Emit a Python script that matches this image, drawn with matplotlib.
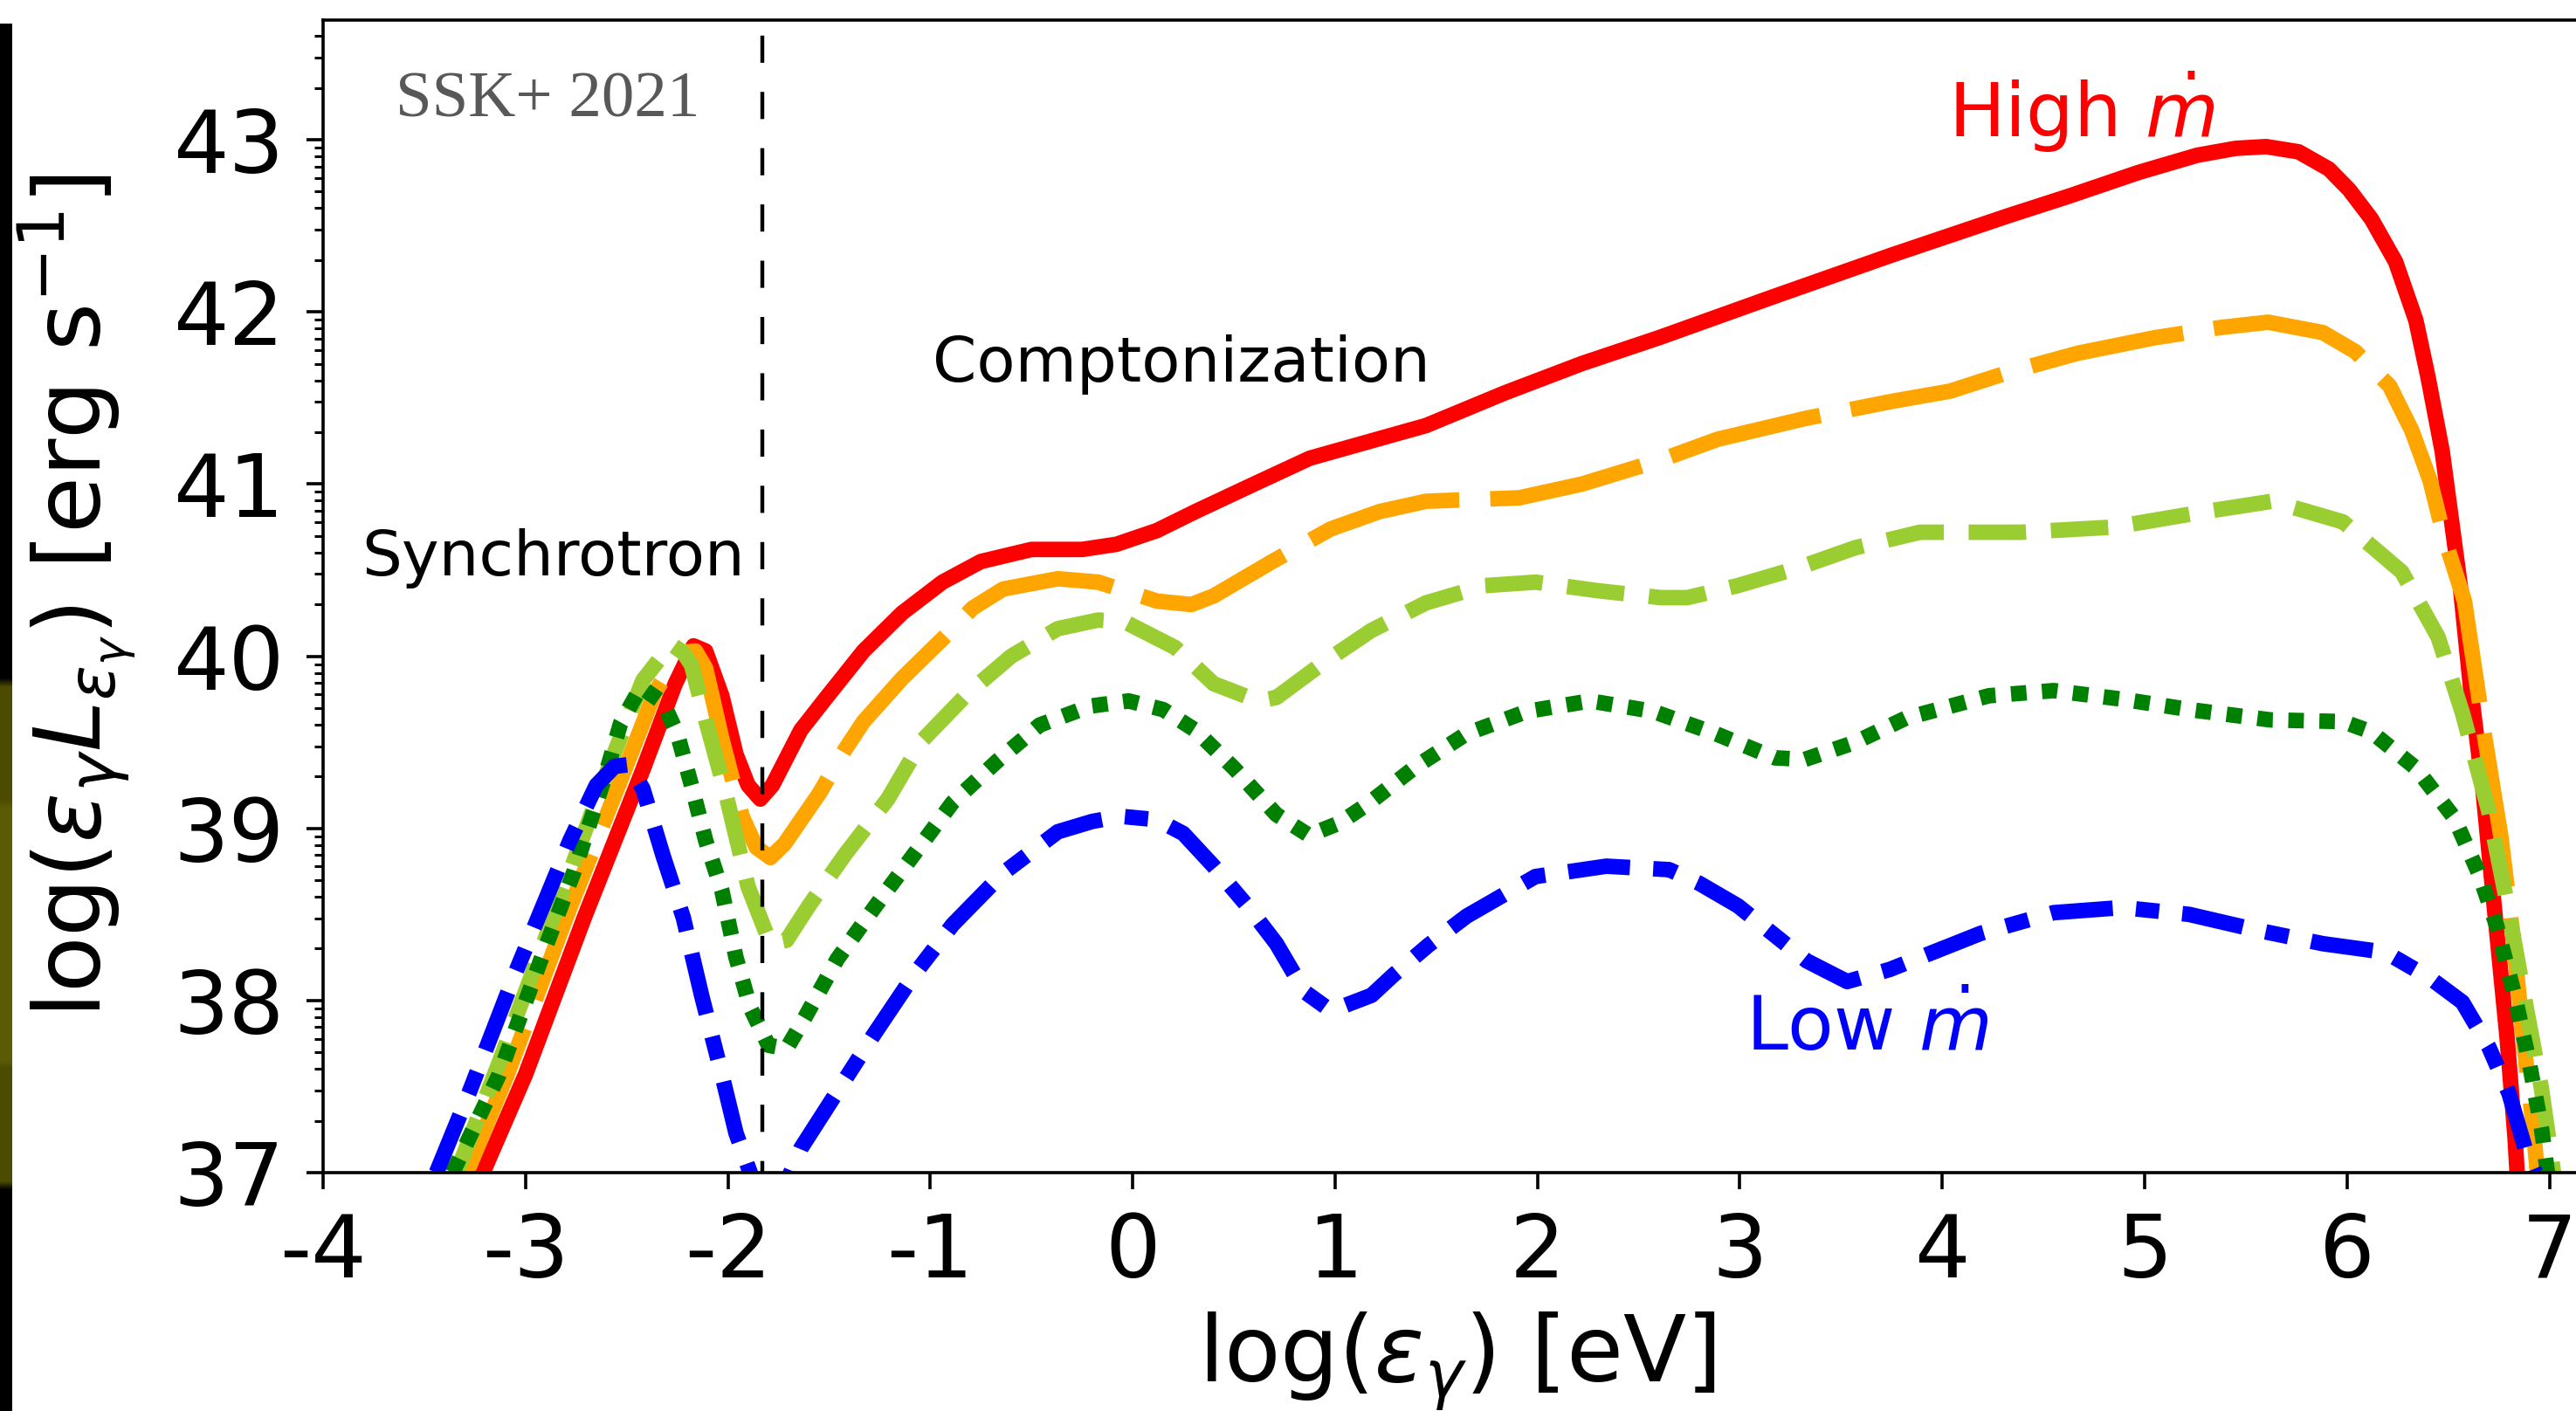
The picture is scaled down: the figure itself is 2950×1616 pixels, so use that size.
import numpy as np
import matplotlib
matplotlib.use("Agg")
import matplotlib.pyplot as plt
from matplotlib import ticker

plt.rcParams['font.family'] = ['DejaVu Sans']
plt.rcParams['axes.unicode_minus'] = False
plt.rcParams['mathtext.fontset'] = 'dejavusans'

# log(eps) [eV] and log(eps L_eps) [erg/s]
red_x = [-3.21, -3.0, -2.71, -2.42, -2.26, -2.17, -2.11, -2.03, -1.96, -1.90, -1.84, -1.78,
         -1.64, -1.52, -1.33, -1.14, -0.94, -0.75, -0.50, -0.25, -0.08, 0.12, 0.31, 0.60,
         0.875, 1.45, 1.84, 2.22, 2.60, 3.17, 3.75, 4.33, 4.62, 4.97, 5.26, 5.45, 5.60, 5.76,
         5.91, 6.01, 6.12, 6.24, 6.34, 6.40, 6.47, 6.56, 6.61, 6.67, 6.73, 6.79, 6.83, 6.84]
red_y = [37.0, 37.57, 38.48, 39.34, 39.84, 40.06, 40.03, 39.77, 39.43, 39.25, 39.17, 39.25,
         39.57, 39.75, 40.03, 40.25, 40.43, 40.55, 40.62, 40.62, 40.65, 40.73, 40.84, 41.0,
         41.15, 41.34, 41.53, 41.70, 41.85, 42.09, 42.33, 42.56, 42.67, 42.81, 42.91, 42.95, 42.96, 42.93,
         42.83, 42.71, 42.54, 42.29, 41.95, 41.62, 41.19, 40.40, 39.82, 39.24, 38.51, 37.79, 37.20, 37.0]

orange_x = [-3.29, -3.09, -2.80, -2.51, -2.36, -2.24, -2.16, -2.11, -2.03, -1.93, -1.86, -1.79,
            -1.72, -1.55, -1.42, -1.33, -1.14, -0.94, -0.79, -0.64, -0.37, -0.17, 0.12, 0.29,
            0.40, 0.69, 0.98, 1.22, 1.45, 1.91, 2.22, 2.61, 2.89, 3.32, 3.75, 4.04, 4.33, 4.67,
            5.05, 5.38, 5.61, 5.88, 6.04, 6.21, 6.32, 6.41, 6.48, 6.58, 6.68, 6.76, 6.82, 6.87,
            6.92, 6.94]
orange_y = [37.0, 37.57, 38.48, 39.34, 39.79, 40.02, 40.03, 39.93, 39.52, 39.07, 38.89, 38.83,
            38.91, 39.20, 39.46, 39.62, 39.87, 40.10, 40.28, 40.39, 40.45, 40.43, 40.32, 40.30,
            40.35, 40.55, 40.74, 40.84, 40.90, 40.92, 41.0, 41.14, 41.26, 41.38, 41.48, 41.54, 41.65, 41.76,
            41.85, 41.91, 41.94, 41.88, 41.77, 41.57, 41.31, 41.02, 40.69, 40.32, 39.53, 38.95, 38.37, 37.79,
            37.26, 37.0]

yg_x = [-3.34, -3.13, -2.88, -2.61, -2.42, -2.28, -2.22, -2.18, -2.11, -2.01, -1.90, -1.79,
        -1.71, -1.60, -1.42, -1.21, -1.04, -0.81, -0.60, -0.37, -0.17, -0.04, 0.21, 0.40,
        0.62, 0.71, 0.94, 1.18, 1.45, 1.74, 1.99, 2.30, 2.61, 2.74, 2.99, 3.28, 3.57, 3.89,
        4.39, 4.85, 5.30, 5.63, 5.98, 6.27, 6.45, 6.57, 6.70, 6.80, 6.88, 6.96, 7.02]
yg_y = [37.0, 37.64, 38.43, 39.29, 39.86, 40.07, 40.02, 39.95, 39.63, 39.20, 38.66, 38.33,
        38.35, 38.55, 38.85, 39.17, 39.51, 39.79, 40.00, 40.16, 40.21, 40.20, 40.05, 39.84,
        39.74, 39.76, 39.96, 40.15, 40.31, 40.41, 40.43, 40.38, 40.34, 40.34, 40.41, 40.51, 40.63, 40.72,
        40.72, 40.75, 40.84, 40.90, 40.78, 40.49, 40.11, 39.67, 39.10, 38.51, 37.99, 37.49, 37.0]

dg_x = [-3.36, -3.13, -2.92, -2.76, -2.61, -2.53, -2.43, -2.32, -2.25, -2.18, -2.11, -2.03,
        -1.96, -1.89, -1.80, -1.71, -1.62, -1.46, -1.27, -1.08, -0.89, -0.67, -0.46, -0.21,
        -0.02, 0.15, 0.31, 0.50, 0.71, 0.87, 1.02, 1.16, 1.40, 1.65, 1.95, 2.26, 2.57, 2.88,
        3.17, 3.32, 3.57, 3.82, 4.23, 4.55, 4.89, 5.22, 5.62, 5.98, 6.12, 6.34, 6.53, 6.65,
        6.74, 6.83, 6.90, 6.96, 6.99]
dg_y = [37.0, 37.57, 38.25, 38.75, 39.29, 39.61, 39.82, 39.73, 39.55, 39.25, 38.93, 38.64,
        38.25, 37.96, 37.74, 37.72, 37.90, 38.24, 38.55, 38.85, 39.15, 39.39, 39.60, 39.71,
        39.74, 39.69, 39.57, 39.35, 39.08, 38.96, 39.03, 39.14, 39.36, 39.55, 39.68, 39.74, 39.68, 39.55,
        39.41, 39.40, 39.50, 39.64, 39.77, 39.80, 39.75, 39.69, 39.63, 39.62, 39.56, 39.35, 39.06, 38.74,
        38.43, 38.02, 37.64, 37.26, 37.0]

blue_x = [-3.44, -3.28, -3.05, -2.78, -2.65, -2.56, -2.49, -2.42, -2.32, -2.22, -2.13, -2.03, -1.96,
          -1.89, -1.79, -1.69, -1.64, -1.46, -1.28, -1.08, -0.89, -0.64, -0.37, -0.20, -0.06, 0.12,
          0.25, 0.40, 0.58, 0.71, 0.85, 0.98, 1.18, 1.29, 1.46, 1.65, 1.99, 2.34, 2.65, 2.80,
          2.99, 3.33, 3.53, 3.74, 3.89, 4.19, 4.55, 4.89, 5.22, 5.55, 5.88, 6.19, 6.41, 6.57,
          6.70, 6.80, 6.88, 6.93]
blue_y = [37.0, 37.46, 38.16, 38.93, 39.25, 39.36, 39.37, 39.23, 38.84, 38.48, 38.03, 37.57, 37.23,
          37.0, 36.6, 37.0, 37.14, 37.47, 37.80, 38.15, 38.44, 38.74, 38.98, 39.04, 39.07, 39.05,
          38.97, 38.78, 38.53, 38.33, 38.05, 37.94, 38.03, 38.15, 38.32, 38.49, 38.72, 38.78, 38.76, 38.68,
          38.55, 38.23, 38.11, 38.18, 38.25, 38.39, 38.51, 38.54, 38.50, 38.41, 38.33, 38.28, 38.13, 37.99,
          37.73, 37.46, 37.14, 37.0]

x_ticks = [-4, -3, -2, -1, 0, 1, 2, 3, 4, 5, 6, 7]
split_x = -1.83

fig = plt.figure(figsize=(14.75, 8.08), dpi=200)
ax = fig.add_axes([370 / 2950, 1 - 1343 / 1616, 2596 / 2950, 1320 / 1616])

lw = 6.4
ax.plot(red_x, 10.0 ** np.array(red_y), color='red', lw=lw, solid_joinstyle='round')
ax.plot(orange_x, 10.0 ** np.array(orange_y), color='orange', lw=lw, linestyle=(0, (10, 2)))
ax.plot(yg_x, 10.0 ** np.array(yg_y), color='yellowgreen', lw=lw, linestyle='--')
ax.plot(dg_x, 10.0 ** np.array(dg_y), color='green', lw=lw, linestyle=(0, (1, 1)))
ax.plot(blue_x, 10.0 ** np.array(blue_y), color='blue', lw=lw, linestyle=(0, (4, 1.5, 1.5, 1.5)))
ax.axvline(split_x, color='black', lw=1.6, linestyle=(4, (7, 7.5)), zorder=5)

ax.set_yscale('log')
ax.set_xlim(-4, 7.2)
ax.set_ylim(1e37, 10 ** 43.695)
ax.set_xticks(x_ticks)
ax.set_xticklabels([str(t) for t in x_ticks])
ax.yaxis.set_major_locator(ticker.LogLocator(base=10, numticks=20))
ax.yaxis.set_minor_locator(ticker.LogLocator(base=10, subs=np.arange(2, 10), numticks=20))
ax.yaxis.set_major_formatter(ticker.FuncFormatter(lambda v, p: f"{np.log10(v):.0f}"))
ax.yaxis.set_minor_formatter(ticker.NullFormatter())
ax.tick_params(which='major', length=7, width=1.3, labelsize=36, pad=9)
ax.tick_params(which='minor', length=3.5, width=1.1)
for s in ax.spines.values():
    s.set_linewidth(1.3)

ax.set_xlabel(r'log($\varepsilon_\gamma$) [eV]', fontsize=38, labelpad=6)
ax.set_ylabel(r'log($\varepsilon_\gamma L_{\varepsilon_\gamma}$) [erg s$^{-1}$]', fontsize=38, labelpad=14)

ax.text(-3.64, 10 ** 43.137, 'SSK+ 2021', family='Liberation Serif', fontsize=27,
        color='#585858', va='baseline')
ax.text(-0.99, 10 ** 41.594, 'Comptonization', fontsize=26, va='baseline')
ax.text(-3.81, 10 ** 40.47, 'Synchrotron', fontsize=26, va='baseline')
ax.text(4.03, 10 ** 43.015, r'High $\dot{m}$', fontsize=31, color='red', va='baseline')
ax.text(3.03, 10 ** 37.71, r'Low $\dot{m}$', fontsize=31, color='blue', va='baseline')

# dark strip from a neighbouring image on the left edge
strip = np.zeros((160, 1, 3))
strip[76:134, 0] = [0.30, 0.30, 0.0]
strip[90:120, 0] = [0.36, 0.36, 0.02]
sax = fig.add_axes([0, 0, 14 / 2950, 1 - 27 / 1616])
sax.imshow(strip, aspect='auto', interpolation='bilinear')
sax.axis('off')

fig.savefig('out.png', dpi=200)
